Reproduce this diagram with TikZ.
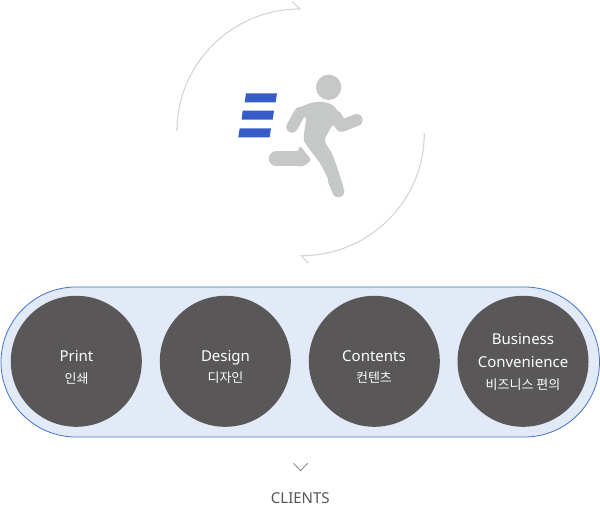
\documentclass[tikz,border=0pt]{standalone}
\usepackage{fontspec}
\setmainfont{Noto Sans}
\newfontfamily\krfont{Noto Sans CJK KR}
\definecolor{arc}{HTML}{D4D5D5}
\definecolor{person}{HTML}{C6C8C7}
\definecolor{barblue}{HTML}{365CC8}
\definecolor{pillfill}{HTML}{E2E9F7}
\definecolor{pillline}{HTML}{4472CF}
\definecolor{disc}{HTML}{595757}
\definecolor{txt}{HTML}{555555}
\tikzset{
  cyclearc/.style={draw=arc,line width=1.1pt,line join=miter},
  bar/.style={fill=barblue,draw=none},
  limb/.style={draw=person,line cap=round,line join=round},
  disc/.style={circle,fill=disc,draw=none,minimum size=131pt,inner sep=0pt},
  en/.style={text=white,font=\fontsize{15}{15}\selectfont,inner sep=0pt,anchor=base},
  ko/.style={text=white,font=\krfont\fontsize{13}{13}\selectfont,inner sep=0pt},
}
\begin{document}
\begin{tikzpicture}[x=1pt,y=-1pt]
\useasboundingbox (0,0) rectangle (600,506);
\fill[white] (0,0) rectangle (600,506);
% cycle arrows
\coordinate (a1s) at (177,131);
\coordinate (a1e) at (300,9);
\coordinate (a1b) at (292.5,1.7);
\coordinate (a2s) at (424.3,133.3);
\coordinate (a2e) at (301.3,255.7);
\coordinate (a2b) at (308.5,263.3);
\draw[cyclearc] (a1s) arc[start angle=180,end angle=90,x radius=123,y radius=-122] -- (a1b);
\draw[cyclearc] (a2s) arc[start angle=0,end angle=-90,x radius=123,y radius=-122.4] -- (a2b);
% speed bars
\begin{scope}[shift={(160,0)},x=0.3333pt,y=-0.3333pt]
\fill[bar] (258,280) -- (351,280) -- (347,307) -- (254,307) -- cycle;
\fill[bar] (248,332) -- (342,332) -- (338,359) -- (245,359) -- cycle;
\fill[bar] (239,385) -- (333,385) -- (329,412) -- (235,412) -- cycle;
\end{scope}
% runner
\begin{scope}[shift={(262,70)},x=0.3333pt,y=-0.3333pt]
\fill[person] (200,52) circle[radius=38];
\draw[limb,line width=11.5pt] (114,128) -- (90,171);
\draw[limb,line width=12pt] (222,140) -- (238,168) -- (284,150);
\fill[person,rounded corners=4pt] (98,126) -- (110,113) -- (150,97) -- (185,95) -- (215,105) -- (245,150) -- (232,185) -- (214,160) -- (185,212) -- (209,247) -- (225,290) -- (247,360) -- (212,372) -- (205,340) -- (176,282) -- (128,218) -- (124,205) -- (134,137) -- (110,150) -- cycle;
\draw[limb,line width=12pt] (215,330) -- (229,364);
\draw[limb,line width=15pt] (43,267) -- (115,267);
\fill[person,rounded corners=2pt] (105,246) -- (115,228) -- (148,270) -- (126,289) -- (100,289) -- cycle;
\end{scope}
% pill
\draw[fill=pillfill,draw=pillline,line width=0.8pt,rounded corners=75pt] (1,287) rectangle (599.5,437);
% discs
\node[disc] (d1) at (76.3,361.3) {};
\node[disc] (d2) at (225.3,361.3) {};
\node[disc] (d3) at (374.3,361.3) {};
\node[disc] (d4) at (523,361.3) {};
\node[en] (t1) at (76.5,361) {Print};
\node[ko] (k1) at (76.5,379) {인쇄};
\node[en] (t2) at (225.5,361) {Design};
\node[ko] (k2) at (225.5,378) {디자인};
\node[en] (t3) at (374,361) {Contents};
\node[ko] (k3) at (374,378) {컨텐츠};
\node[en] (t4a) at (523,344.3) {Business};
\node[en] (t4b) at (523,367.7) {Convenience};
\node[ko] (k4) at (523,385) {비즈니스 편의};
% chevron
\coordinate (c1) at (293.5,463.3);
\coordinate (c2) at (300.5,470.7);
\coordinate (c3) at (307.7,463.3);
\draw[draw=txt!75,line width=0.8pt] (c1) -- (c2) -- (c3);
\node[text=txt,font=\fontsize{15}{15}\selectfont,inner sep=0pt,anchor=base] (cl) at (300.3,503) {CLIENTS};
\end{tikzpicture}
\end{document}
